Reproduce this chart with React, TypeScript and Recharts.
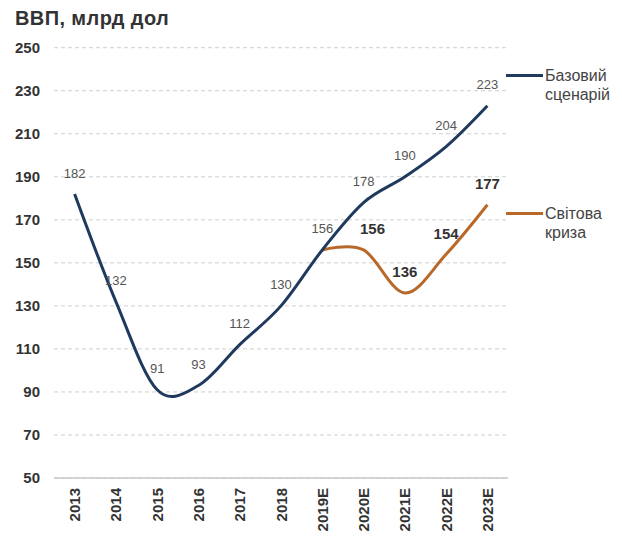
import React from "react";
import {
  LineChart,
  Line,
  XAxis,
  YAxis,
  CartesianGrid,
  LabelList,
} from "recharts";

const years = ["2013", "2014", "2015", "2016", "2017", "2018", "2019E", "2020E", "2021E", "2022E", "2023E"];
const baseScenario = [182, 132, 91, 93, 112, 130, 156, 178, 190, 204, 223];
const crisisScenario: (number | null)[] = [null, null, null, null, null, null, 156, 156, 136, 154, 177];
const yTicks = [50, 70, 90, 110, 130, 150, 170, 190, 210, 230, 250];

const seriesNames = { base: ["Базовий", "сценарій"], crisis: ["Світова", "криза"] };
const title = "ВВП, млрд дол";

const data = years.map((y, i) => ({ year: y, base: baseScenario[i], crisis: crisisScenario[i] }));

const NAVY = "#1f3a5c";
const ORANGE = "#b8692a";
const FONT = "'Liberation Sans', Arial, sans-serif";

// Cardinal (tension 0) spline, similar to Excel smoothed lines
function pointTo(that: any, x: number, y: number) {
  that._context.bezierCurveTo(
    that._x1 + that._k * (that._x2 - that._x0),
    that._y1 + that._k * (that._y2 - that._y0),
    that._x2 + that._k * (that._x1 - x),
    that._y2 + that._k * (that._y1 - y),
    that._x2,
    that._y2
  );
}
class Cardinal {
  _context: any; _k: number; _line: number = NaN; _point = 0;
  _x0 = NaN; _x1 = NaN; _x2 = NaN; _y0 = NaN; _y1 = NaN; _y2 = NaN;
  constructor(context: any) { this._context = context; this._k = 1 / 6; }
  areaStart() { this._line = 0; }
  areaEnd() { this._line = NaN; }
  lineStart() {
    this._x0 = this._x1 = this._x2 = this._y0 = this._y1 = this._y2 = NaN;
    this._point = 0;
  }
  lineEnd() {
    switch (this._point) {
      case 2: this._context.lineTo(this._x2, this._y2); break;
      case 3: pointTo(this, this._x1, this._y1); break;
    }
    if (this._line || (this._line !== 0 && this._point === 1)) this._context.closePath();
    this._line = 1 - this._line;
  }
  point(x: number, y: number) {
    x = +x; y = +y;
    switch (this._point) {
      case 0: this._point = 1; this._line ? this._context.lineTo(x, y) : this._context.moveTo(x, y); break;
      case 1: this._point = 2; this._x1 = x; this._y1 = y; break;
      case 2: this._point = 3; pointTo(this, x, y); break;
      default: pointTo(this, x, y); break;
    }
    this._x0 = this._x1; this._x1 = this._x2; this._x2 = x;
    this._y0 = this._y1; this._y1 = this._y2; this._y2 = y;
  }
}
const cardinalCurve: any = (context: any) => new Cardinal(context);

const XTick = (props: any) => {
  const { x, y, payload } = props;
  return (
    <g transform={`translate(${x},${y})`}>
      <text
        transform="rotate(-90)"
        textAnchor="end"
        dominantBaseline="central"
        fontFamily={FONT}
        fontSize={15}
        fontWeight="bold"
        fill="#333"
      >
        {payload.value}
      </text>
    </g>
  );
};

const BaseLabel = (props: any) => {
  const { x, y, value } = props;
  return (
    <text x={x} y={y - 21} textAnchor="middle" dominantBaseline="central" fontFamily={FONT} fontSize={13} fill="#555">
      {value}
    </text>
  );
};

const CrisisLabel = (props: any) => {
  const { x, y, value, index } = props;
  if (value == null || index === 6) return null;
  const dx = index === 7 ? 9 : 0;
  return (
    <text x={x + dx} y={y - 21} textAnchor="middle" dominantBaseline="central" fontFamily={FONT} fontSize={15} fontWeight="bold" fill="#333">
      {value}
    </text>
  );
};

const LegendOverlay = () => {
  const items = [
    { lines: seriesNames.base, color: NAVY, top: 75 },
    { lines: seriesNames.crisis, color: ORANGE, top: 213 },
  ];
  return (
    <>
      {items.map((it, i) => (
        <div key={i}>
          <div style={{ position: "absolute", left: 506, top: it.top - 1.5, width: 37, height: 3, background: it.color }} />
          <div style={{ position: "absolute", left: 545, top: it.top - 9, fontFamily: FONT, fontSize: 16, lineHeight: "19px", color: "#444" }}>
            {it.lines[0]}
            <br />
            {it.lines[1]}
          </div>
        </div>
      ))}
    </>
  );
};

export default function App() {
  return (
    <div style={{ position: "absolute", left: 0, top: 0, width: 622, height: 536, background: "#fff" }}>
      <LineChart width={622} height={536} data={data} margin={{ top: 47.7, right: 114, bottom: 0, left: 0 }}>
        <CartesianGrid horizontal vertical={false} stroke="#cfcfcf" strokeDasharray="4 3" />
        <XAxis
          dataKey="year"
          height={58}
          padding={{ left: 20.6, right: 20.6 }}
          tickLine={false}
          axisLine={{ stroke: "#c8c8c8", strokeWidth: 1.5 }}
          tickSize={0}
          tickMargin={10}
          interval={0}
          tick={<XTick />}
        />
        <YAxis
          width={54}
          domain={[50, 250]}
          ticks={yTicks}
          interval={0}
          axisLine={false}
          tickLine={false}
          tickSize={0}
          tickMargin={14}
          tick={{ fontFamily: FONT, fontSize: 15, fontWeight: "bold", fill: "#333" }}
        />
        <Line
          dataKey="crisis"
          type={cardinalCurve}
          stroke={ORANGE}
          strokeWidth={3}
          dot={false}
          activeDot={false}
          isAnimationActive={false}
        >
          <LabelList dataKey="crisis" content={<CrisisLabel />} />
        </Line>
        <Line
          dataKey="base"
          type={cardinalCurve}
          stroke={NAVY}
          strokeWidth={3}
          dot={false}
          activeDot={false}
          isAnimationActive={false}
        >
          <LabelList dataKey="base" content={<BaseLabel />} />
        </Line>
      </LineChart>
      <div style={{ position: "absolute", left: 15, top: 7, fontFamily: FONT, fontSize: 20, letterSpacing: 0.4, fontWeight: "bold", color: "#333", whiteSpace: "nowrap" }}>
        {title}
      </div>
      <LegendOverlay />
    </div>
  );
}
